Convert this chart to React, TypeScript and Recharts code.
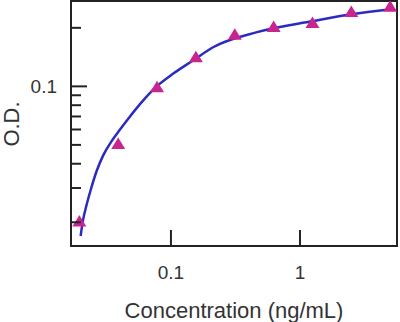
import React from 'react';
import { ComposedChart, Scatter, Line, XAxis, YAxis, ReferenceArea } from 'recharts';

// measured standards (triangles)
const concentrations = [0.0195, 0.039, 0.078, 0.156, 0.3125, 0.625, 1.25, 2.5, 5];
const odValues = [0.0202, 0.0506, 0.099, 0.141, 0.184, 0.202, 0.212, 0.241, 0.257];

// fitted curve
const curveX = [
  0.01995, 0.0207, 0.0222, 0.0239, 0.0266, 0.0299, 0.0347, 0.0403, 0.0465, 0.061, 0.0752, 0.1042,
  0.149, 0.212, 0.465, 1.26, 2.58, 5.26,
];
const curveY = [
  0.017, 0.0201, 0.0246, 0.0294, 0.0368, 0.0443, 0.0523, 0.06, 0.068, 0.0847, 0.0982, 0.1163,
  0.1362, 0.1589, 0.19, 0.2166, 0.2355, 0.2497,
];

const xTicks = [0.1, 1];
const yTicks = [0.02, 0.03, 0.04, 0.05, 0.06, 0.07, 0.08, 0.09, 0.1, 0.2];
const yLabelled = [0.1];

const X_DOMAIN: [number, number] = [0.0168, 5.65];
const Y_DOMAIN: [number, number] = [0.0151, 0.2748];

const points = concentrations.map((x, i) => ({ x, y: odValues[i] }));
const curve = curveX.map((x, i) => ({ x, y: curveY[i] }));

const FONT = '"Liberation Sans", Arial, sans-serif';
const TEXT = '#333';

const Triangle = (props: any) => {
  const { cx, cy } = props;
  if (cx == null || cy == null) return null;
  return (
    <polygon
      points={`${cx},${cy - 6.5} ${cx - 7},${cy + 5} ${cx + 7},${cy + 5}`}
      fill="#c8268e"
    />
  );
};

const YTick = (props: any) => {
  const { x, y, payload } = props;
  const major = yLabelled.includes(payload.value);
  return (
    <g>
      <line x1={x} x2={x + (major ? 16 : 10)} y1={y} y2={y} stroke="#222" strokeWidth={2} />
      {major && (
        <text x={x - 14} y={y + 7} textAnchor="end" fontSize={19} fontFamily={FONT} fill={TEXT}>
          {payload.value}
        </text>
      )}
    </g>
  );
};

const XTick = (props: any) => {
  const { x, y, payload } = props;
  return (
    <g>
      <line x1={x} x2={x} y1={y} y2={y - 16} stroke="#222" strokeWidth={2} />
      <text x={x} y={y + 33} textAnchor="middle" fontSize={19} fontFamily={FONT} fill={TEXT}>
        {payload.value}
      </text>
    </g>
  );
};

const YTitle = (props: any) => {
  const { viewBox } = props;
  const cy = viewBox.y + 123;
  return (
    <text
      x={19}
      y={cy}
      transform={`rotate(-90 19 ${cy})`}
      textAnchor="middle"
      fontSize={22}
      fontFamily={FONT}
      fill={TEXT}
    >
      O.D.
    </text>
  );
};

const XTitle = (props: any) => {
  const { viewBox } = props;
  const cx = viewBox.x + viewBox.width / 2;
  return (
    <text x={cx} y={318} textAnchor="middle" fontSize={22} fontFamily={FONT} fill={TEXT}>
      Concentration (ng/mL)
    </text>
  );
};

export default function App() {
  return (
    <div style={{ position: 'absolute', left: 0, top: 0, background: '#fff' }}>
      <ComposedChart width={400} height={322} margin={{ top: 1, right: 3, bottom: 0, left: 0 }}>
        <XAxis
          type="number"
          dataKey="x"
          scale="log"
          domain={X_DOMAIN}
          allowDataOverflow
          ticks={xTicks}
          interval={0}
          height={76}
          tickSize={0}
          tickMargin={0}
          axisLine={false}
          tickLine={false}
          tick={<XTick />}
          label={<XTitle />}
        />
        <YAxis
          type="number"
          dataKey="y"
          scale="log"
          domain={Y_DOMAIN}
          allowDataOverflow
          ticks={yTicks}
          interval={0}
          width={71}
          tickSize={0}
          tickMargin={0}
          axisLine={false}
          tickLine={false}
          tick={<YTick />}
          label={<YTitle />}
        />
        <ReferenceArea
          x1={X_DOMAIN[0]}
          x2={X_DOMAIN[1]}
          y1={Y_DOMAIN[0]}
          y2={Y_DOMAIN[1]}
          fill="none"
          stroke="#222"
          strokeWidth={2}
          fillOpacity={0}
        />
        <Scatter data={points} shape={<Triangle />} isAnimationActive={false} />
        <Line
          data={curve}
          dataKey="y"
          type="monotone"
          stroke="#2b2bc0"
          strokeWidth={2.5}
          dot={false}
          activeDot={false}
          isAnimationActive={false}
        />
      </ComposedChart>
    </div>
  );
}
